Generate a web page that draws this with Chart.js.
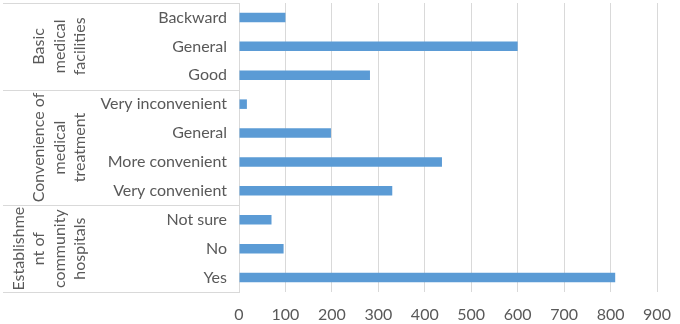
<!DOCTYPE html>
<html>
<head>
<meta charset="utf-8">
<script src="https://cdn.jsdelivr.net/npm/chart.js@4"></script>
<style>
  html, body { margin: 0; padding: 0; background: #fff; }
  #wrap { width: 680px; height: 324px; position: relative; }
</style>
</head>
<body>
<div id="wrap"><canvas id="chart"></canvas></div>
<script>
// categories top to bottom
const categories = ['Backward', 'General', 'Good',
  'Very inconvenient', 'General', 'More convenient', 'Very convenient',
  'Not sure', 'No', 'Yes'];
const values = [100, 600, 282, 17, 198, 437, 330, 70, 96, 810];

// group labels (already wrapped as in the picture) and how many categories each spans
const groupLines = [
  ['Basic', 'medical', 'facilities'],
  ['Convenience of', 'medical', 'treatment'],
  ['Establishme', 'nt of', 'community', 'hospitals']
];
const groupSizes = [3, 4, 3];

const xTicks = [0, 100, 200, 300, 400, 500, 600, 700, 800, 900];

const FONT = 'Lato';
const TEXT = '#595959';
const LINE = '#D9D9D9';

const groupPlugin = {
  id: 'groups',
  afterDraw(chart) {
    const ctx = chart.ctx;
    const y = chart.scales.y;
    const left = chart.chartArea.left;
    const half = (y.getPixelForValue(1) - y.getPixelForValue(0)) / 2;
    ctx.save();
    ctx.strokeStyle = LINE;
    ctx.lineWidth = 1;
    let start = 0;
    const edges = [y.getPixelForValue(0) - half];
    groupSizes.forEach(n => {
      edges.push(y.getPixelForValue(start + n - 1) + half);
      start += n;
    });
    edges.forEach(e => {
      ctx.beginPath();
      ctx.moveTo(3, Math.round(e) + 0.5);
      ctx.lineTo(left, Math.round(e) + 0.5);
      ctx.stroke();
    });

    ctx.fillStyle = TEXT;
    ctx.font = '16px ' + FONT;
    ctx.textAlign = 'center';
    ctx.textBaseline = 'middle';
    groupLines.forEach((lines, g) => {
      const mid = (edges[g] + edges[g + 1]) / 2;
      lines.forEach((txt, i) => {
        const x = 80 - 20.4 * (lines.length - 1 - i);
        ctx.save();
        ctx.translate(x, mid);
        ctx.rotate(-Math.PI / 2);
        ctx.fillText(txt, 0, 0);
        ctx.restore();
      });
    });
    ctx.restore();
  }
};

new Chart(document.getElementById('chart'), {
  type: 'bar',
  data: {
    labels: categories,
    datasets: [{
      data: values,
      backgroundColor: '#5B9BD5',
      barPercentage: 0.33,
      categoryPercentage: 1
    }]
  },
  options: {
    indexAxis: 'y',
    responsive: true,
    maintainAspectRatio: false,
    animation: false,
    layout: { padding: { top: 3, right: 23, bottom: 0, left: 0 } },
    plugins: {
      legend: { display: false },
      tooltip: { enabled: false },
      title: { display: false }
    },
    scales: {
      x: {
        min: 0,
        max: 900,
        afterBuildTicks(scale) {
          scale.ticks = xTicks.map(v => ({ value: v }));
        },
        afterFit(scale) {
          scale.height = 32;
          scale.paddingLeft = 0;
          scale.paddingRight = 0;
        },
        grid: { color: LINE, drawTicks: false },
        border: { display: false },
        ticks: {
          padding: 13,
          color: TEXT,
          font: { family: FONT, size: 16 }
        }
      },
      y: {
        afterFit(scale) {
          scale.width = 239;
          scale.paddingTop = 0;
          scale.paddingBottom = 0;
        },
        grid: { display: false, drawTicks: false },
        border: { display: true, color: LINE },
        ticks: {
          padding: 12,
          color: TEXT,
          font: { family: FONT, size: 16 }
        }
      }
    }
  },
  plugins: [groupPlugin]
});
</script>
</body>
</html>
